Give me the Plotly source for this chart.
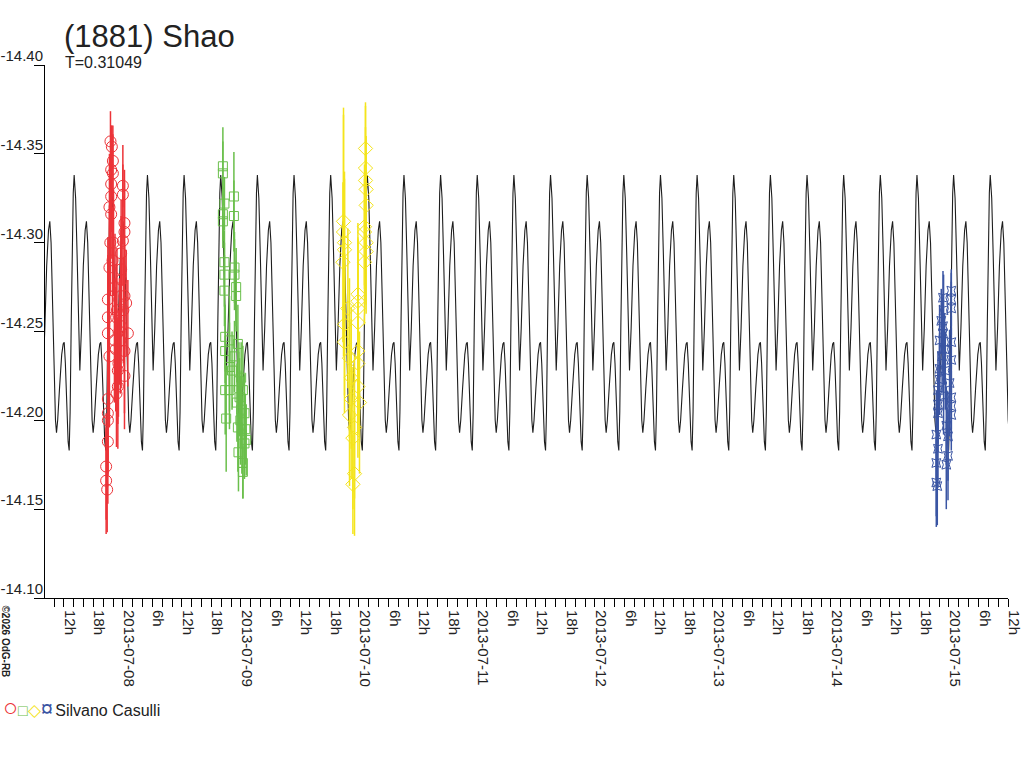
import plotly.graph_objects as go
import pandas as pd

# ---------------- data ----------------
PERIOD_DAYS = 0.31049
EPOCH_MAX = "2013-07-11 00:04"          # a time of main maximum of the model curve
X_START = "2013-07-07 08:10"
X_END = "2013-07-15 12:00"

# one period of the model light curve (phase, magnitude)
model_phase = [0.000, 0.040, 0.080, 0.120, 0.155, 0.200, 0.250, 0.300, 0.335, 0.370,
               0.410, 0.450, 0.490, 0.518, 0.550, 0.600, 0.660, 0.700, 0.728, 0.760,
               0.800, 0.835, 0.864, 0.890, 0.920, 0.950, 0.975]
model_mag = [-14.338, -14.325, -14.293, -14.255, -14.228, -14.252, -14.287, -14.307, -14.312, -14.300,
             -14.265, -14.225, -14.200, -14.193, -14.200, -14.218, -14.237, -14.243, -14.244, -14.232,
             -14.205, -14.188, -14.183, -14.205, -14.255, -14.300, -14.328]

# session 1 (red circles) - hours relative to 2013-07-08 00:00
red_base = "2013-07-08 00:00"
red_hours = [-2.52, -2.24, -2.03, -2.38, -2.03, -2.38, 0.00, 0.00, -2.38, -2.73,
             -2.38, 0.33, 0.33, 0.00, -0.35, -2.73, -0.35, -0.35, 0.33, -3.05,
             0.67, -3.05, -1.36, -0.35, -3.05, 1.02, -1.71, 0.33, -2.73, -1.02,
             0.33, -1.02, -3.05, -3.05, -3.05, -3.05, -3.40, -3.40, -3.19, -1.90,
             -1.60, -1.20, -0.70, -2.10, -1.45, -0.90, 0.10, -2.55, -1.30, -0.50]
red_mag = [-14.357, -14.354, -14.346, -14.341, -14.339, -14.333, -14.332, -14.327, -14.326, -14.320,
           -14.316, -14.311, -14.306, -14.301, -14.294, -14.286, -14.285, -14.279, -14.270, -14.268,
           -14.266, -14.258, -14.258, -14.253, -14.249, -14.249, -14.245, -14.239, -14.236, -14.228,
           -14.225, -14.219, -14.212, -14.204, -14.200, -14.188, -14.174, -14.166, -14.161, -14.300,
           -14.275, -14.262, -14.250, -14.290, -14.240, -14.232, -14.262, -14.300, -14.215, -14.245]
red_err = [0.017, 0.012, 0.020, 0.025, 0.022, 0.020, 0.012, 0.028, 0.020, 0.030,
           0.025, 0.030, 0.028, 0.025, 0.030, 0.035, 0.030, 0.028, 0.030, 0.035,
           0.030, 0.035, 0.030, 0.035, 0.040, 0.030, 0.035, 0.035, 0.040, 0.030,
           0.030, 0.035, 0.035, 0.035, 0.030, 0.035, 0.030, 0.030, 0.024, 0.030,
           0.030, 0.035, 0.030, 0.030, 0.035, 0.030, 0.030, 0.030, 0.030, 0.030]

# session 2 (green squares) - hours relative to 2013-07-09 00:00
green_base = "2013-07-09 00:00"
green_hours = [-3.66, -3.66, -3.34, -1.42, -3.66, -1.42, -3.66, -3.34, -1.30, -3.34,
               -1.30, -0.96, -3.34, -0.96, -3.19, -2.32, -0.61, -3.19, -1.30, -2.32,
               0.06, -3.19, -2.32, 0.41, -0.28, 0.06, -2.99, 0.73, -0.61, 1.08,
               0.73, -0.49, 0.41, 0.41, -0.10, 0.20, -0.40, 0.90, -1.80, -0.80]
green_mag = [-14.343, -14.339, -14.322, -14.326, -14.316, -14.315, -14.312, -14.289, -14.286, -14.282,
             -14.282, -14.275, -14.273, -14.270, -14.247, -14.245, -14.243, -14.239, -14.236, -14.230,
             -14.224, -14.217, -14.217, -14.217, -14.213, -14.206, -14.201, -14.204, -14.196, -14.189,
             -14.187, -14.182, -14.176, -14.171, -14.200, -14.192, -14.222, -14.195, -14.228, -14.210]
green_err = [0.022, 0.018, 0.015, 0.025, 0.015, 0.020, 0.015, 0.018, 0.020, 0.018,
             0.020, 0.022, 0.020, 0.020, 0.018, 0.025, 0.022, 0.018, 0.020, 0.025,
             0.020, 0.025, 0.022, 0.025, 0.022, 0.022, 0.030, 0.022, 0.025, 0.020,
             0.020, 0.022, 0.020, 0.015, 0.025, 0.022, 0.022, 0.020, 0.022, 0.022]

# session 3 (yellow diamonds) - hours relative to 2013-07-10 00:00
yellow_base = "2013-07-10 00:00"
yellow_hours = [1.34, 1.34, 1.34, 1.48, 1.48, -3.13, 1.14, -3.13, 1.14, -2.93,
                1.48, -2.93, 1.48, -3.25, 1.14, -0.20, -0.20, -0.20, -2.24, -0.20,
                -2.93, -2.93, -0.20, -1.91, -0.20, -1.57, -0.20, -1.57, 0.12, -1.91,
                -0.89, -1.22, -0.89, -1.22]
yellow_mag = [-14.353, -14.342, -14.335, -14.330, -14.321, -14.312, -14.309, -14.306, -14.306, -14.300,
              -14.300, -14.296, -14.295, -14.289, -14.289, -14.271, -14.267, -14.263, -14.263, -14.255,
              -14.254, -14.244, -14.239, -14.235, -14.232, -14.224, -14.219, -14.212, -14.210, -14.203,
              -14.196, -14.190, -14.170, -14.164]
yellow_err = [0.026, 0.035, 0.030, 0.030, 0.030, 0.060, 0.035, 0.070, 0.030, 0.040,
              0.035, 0.040, 0.035, 0.045, 0.035, 0.040, 0.035, 0.040, 0.045, 0.040,
              0.040, 0.040, 0.040, 0.045, 0.040, 0.040, 0.040, 0.045, 0.040, 0.040,
              0.040, 0.040, 0.035, 0.028]

# session 4 (blue) - hours relative to 2013-07-15 00:00
blue_base = "2013-07-15 00:00"
blue_hours = [0.47, -1.22, 0.47, 0.47, -1.57, -1.22, -1.22, 0.47, -1.91, 0.47,
              -1.91, -1.91, 0.12, -2.24, 0.47, -2.24, 0.47, 0.47, -2.24, -0.55,
              -2.58, -0.20, -2.24, -0.20, -2.58, -0.55, -2.58, -2.38, -1.10, -0.90,
              -0.75, -1.10, -1.40]
blue_mag = [-14.273, -14.269, -14.268, -14.263, -14.256, -14.253, -14.249, -14.244, -14.245, -14.234,
            -14.229, -14.223, -14.221, -14.217, -14.213, -14.209, -14.208, -14.203, -14.204, -14.197,
            -14.192, -14.191, -14.184, -14.180, -14.176, -14.175, -14.165, -14.163, -14.262, -14.240,
            -14.228, -14.214, -14.236]
blue_err = [0.012, 0.015, 0.015, 0.015, 0.018, 0.018, 0.020, 0.015, 0.020, 0.018,
            0.020, 0.020, 0.030, 0.022, 0.018, 0.022, 0.020, 0.020, 0.022, 0.022,
            0.025, 0.025, 0.022, 0.025, 0.030, 0.025, 0.025, 0.022, 0.020, 0.020,
            0.022, 0.022, 0.020]

y_ticks = [-14.40, -14.35, -14.30, -14.25, -14.20, -14.15, -14.10]
day_labels = ["2013-07-07", "2013-07-08", "2013-07-09", "2013-07-10", "2013-07-11",
              "2013-07-12", "2013-07-13", "2013-07-14", "2013-07-15"]
hour_labels = {6: "6h", 12: "12h", 18: "18h"}

# ---------------- figure ----------------
epoch = pd.Timestamp(EPOCH_MAX)
t0 = pd.Timestamp(X_START)
t1 = pd.Timestamp(X_END)
period = pd.Timedelta(days=PERIOD_DAYS)
k_min = int((t0 - epoch) / period) - 2
k_max = int((t1 - epoch) / period) + 2
model_t, model_y = [], []
for k in range(k_min, k_max + 1):
    for ph, m in zip(model_phase, model_mag):
        model_t.append(epoch + (k + ph) * period)
        model_y.append(m)

fig = go.Figure()
fig.add_trace(go.Scatter(x=model_t, y=model_y, mode="lines",
                         line=dict(color="#1e1e1e", width=1.1), showlegend=False,
                         hoverinfo="skip"))

sessions = [
    (red_base, red_hours, red_mag, red_err, "#ec3338", "circle-open", 11),
    (green_base, green_hours, green_mag, green_err, "#6abf4b", "square-open", 9),
    (yellow_base, yellow_hours, yellow_mag, yellow_err, "#f4e41c", "diamond-open", 11),
    (blue_base, blue_hours, blue_mag, blue_err, "#3a55a3", "star-square-open", 8),
]
for base, hrs, mags, errs, col, sym_, size in sessions:
    b = pd.Timestamp(base)
    ts = [b + pd.Timedelta(hours=h) for h in hrs]
    fig.add_trace(go.Scatter(
        x=ts, y=mags, mode="markers",
        marker=dict(symbol=sym_, size=size, color=col, line=dict(width=1, color=col)),
        error_y=dict(type="data", array=errs, visible=True, color=col, thickness=1.5, width=0),
        showlegend=False))

# x ticks: labels every 6 h, minor ticks every 2 h
tickvals, ticktext = [], []
for d in day_labels:
    day = pd.Timestamp(d)
    for h in [0, 6, 12, 18]:
        t = day + pd.Timedelta(hours=h)
        if t0 <= t <= t1:
            tickvals.append(t)
            ticktext.append(d if h == 0 else hour_labels[h])

font_main = "Liberation Sans, Arial, sans-serif"
fig.update_xaxes(
    range=[t0, t1], tickmode="array", tickvals=tickvals, ticktext=ticktext,
    tickangle=90, ticks="outside", ticklen=8, tickcolor="#000", tickwidth=1,
    ticklabelshift=6, automargin=False,
    minor=dict(dtick=2 * 3600 * 1000, ticks="outside", ticklen=8, tickcolor="#000", showgrid=False),
    showline=True, linecolor="#000", linewidth=1, showgrid=False, zeroline=False,
    tickfont=dict(family=font_main, size=15, color="#222"))
fig.update_yaxes(
    range=[-14.10, -14.40], tickmode="array", tickvals=y_ticks,
    ticktext=[f"{v:.2f}" for v in y_ticks],
    ticks="outside", ticklen=10, tickcolor="#000", tickwidth=1,
    ticklabelshift=9, ticklabelstandoff=-12, automargin=False,
    showline=True, linecolor="#000", linewidth=1, showgrid=False, zeroline=False,
    tickfont=dict(family=font_main, size=15, color="#222"))

W, H = 1024, 768
L, T = 45, 65
pw, ph = 963, 533
R, B = W - L - pw, H - T - ph
def px(x):
    return (x - L) / pw
def py(y):
    return (T + ph - y) / ph

def sym(color, size, ch):
    return f"<span style='color:{color};font-size:{size}px'>{ch}</span>"

annotations = [
    dict(text="(1881) Shao", x=px(62), y=py(36), xref="paper", yref="paper",
         xanchor="left", yanchor="middle", showarrow=False,
         font=dict(family=font_main, size=31, color="#222")),
    dict(text="T=0.31049", x=px(63), y=py(62), xref="paper", yref="paper",
         xanchor="left", yanchor="middle", showarrow=False,
         font=dict(family=font_main, size=16, color="#222")),
    dict(text="<b>©2026 OdG-RB</b>", x=px(5.5), y=py(641), xref="paper", yref="paper",
         xanchor="center", yanchor="middle", showarrow=False, textangle=90,
         font=dict(family=font_main, size=10, color="#222")),
    dict(text=(sym("#ec3338", 25, "○") + sym("#6abf4b", 16, "□") +
               sym("#f4e41c", 17, "◇") + sym("#3a55a3", 22, "¤") +
               "<span style='font-size:8px'> </span>Silvano Casulli"),
         x=px(1), y=py(707), xref="paper", yref="paper",
         xanchor="left", yanchor="middle", showarrow=False,
         font=dict(family=font_main, size=16, color="#222")),
]

fig.update_layout(width=W, height=H, margin=dict(l=L, r=R, t=T, b=B, autoexpand=False),
                  paper_bgcolor="white", plot_bgcolor="white",
                  annotations=annotations, showlegend=False)
# remove the page's default body margin so the figure sits at the window's corner
fig.write_html("out.html", config={"displayModeBar": False},
               post_script="document.body.style.margin='0';document.body.style.overflow='hidden';")
